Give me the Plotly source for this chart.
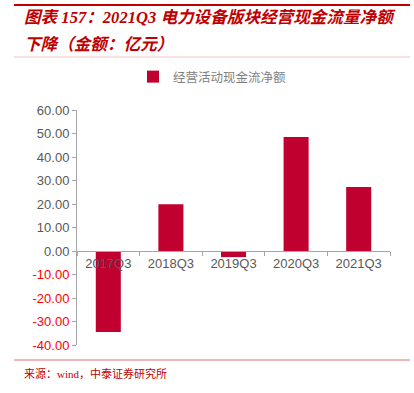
import plotly.graph_objects as go

categories = ["2017Q3", "2018Q3", "2019Q3", "2020Q3", "2021Q3"]
values = [-34.5, 19.9, -2.6, 48.5, 27.2]
series_name = "经营活动现金流净额"
y_ticks = [60, 50, 40, 30, 20, 10, 0, -10, -20, -30, -40]

title1 = "图表 157：2021Q3 电力设备版块经营现金流量净额"
title2 = "下降（金额：亿元）"
source = "来源：wind，中泰证券研究所"

W, H = 414, 393
L, R, T, B = 77, 24, 110, 48
pw, ph = W - L - R, H - T - B

def px_x(p):
    return (p - L) / pw

def px_y(p):
    return (H - B - p) / ph

tick_text = [
    (f"<span style='color:#FF0000'>{v:.2f}</span>" if v < 0 else f"{v:.2f}")
    for v in y_ticks
]

RED = "#C0002F"
fig = go.Figure()
fig.add_trace(go.Bar(x=categories, y=values, name=series_name,
                     marker=dict(color=RED, line=dict(width=0)),
                     showlegend=True))

fig.update_layout(
    width=W, height=H,
    margin=dict(l=L, r=R, t=T, b=B, autoexpand=False),
    paper_bgcolor="white", plot_bgcolor="white",
    bargap=0.6,
    font=dict(family="Liberation Sans, Arial, Noto Sans CJK SC", color="#595959", size=13),
    showlegend=True,
    legend=dict(orientation="h", x=px_x(212), xanchor="center", y=px_y(77), yanchor="middle",
                font=dict(family="Liberation Serif, Noto Sans CJK SC", size=12.5, color="#7F7F7F"),
                itemwidth=30, bgcolor="rgba(0,0,0,0)"),
    xaxis=dict(anchor="free", position=0.4, showline=True, linecolor="#A6A6A6", linewidth=1,
               ticks="outside", tickson="boundaries", ticklen=4, tickcolor="#A6A6A6",
               showgrid=False, tickfont=dict(size=13, color="#595959"), ticklabelstandoff=0),
    yaxis=dict(range=[-40, 60], tickvals=y_ticks, ticktext=tick_text, showline=True,
               linecolor="#A6A6A6", linewidth=1, ticks="outside", ticklen=4, tickcolor="#A6A6A6",
               showgrid=False, zeroline=False, tickfont=dict(size=13, color="#595959")),
)

shapes = [
    dict(type="line", xref="paper", yref="paper", x0=px_x(14), x1=px_x(410), y0=px_y(5), y1=px_y(5),
         line=dict(color="#C00000", width=2)),
    dict(type="line", xref="paper", yref="paper", x0=px_x(14), x1=px_x(410), y0=px_y(57), y1=px_y(57),
         line=dict(color="#F2C4C4", width=1)),
    dict(type="line", xref="paper", yref="paper", x0=px_x(14), x1=px_x(410), y0=px_y(360), y1=px_y(360),
         line=dict(color="#E07070", width=1)),
]
fig.update_layout(shapes=shapes)

tfont = dict(family="Liberation Serif, Noto Sans CJK SC", size=16.6, color="#C00000")
fig.add_annotation(text=f"<b><i>{title1}</i></b>", xref="paper", yref="paper", x=px_x(22), y=px_y(17),
                   xanchor="left", yanchor="middle", showarrow=False, font=tfont)
fig.add_annotation(text=f"<b><i>{title2}</i></b>", xref="paper", yref="paper", x=px_x(22), y=px_y(44),
                   xanchor="left", yanchor="middle", showarrow=False, font=tfont)
fig.add_annotation(text=source, xref="paper", yref="paper", x=px_x(22), y=px_y(373),
                   xanchor="left", yanchor="middle", showarrow=False,
                   font=dict(family="Liberation Serif, Noto Sans CJK SC", size=11, color="#C00000"))

fig.write_html("out.html", config={"displayModeBar": False},
               post_script="document.body.style.margin='0';document.body.style.overflow='hidden';")
